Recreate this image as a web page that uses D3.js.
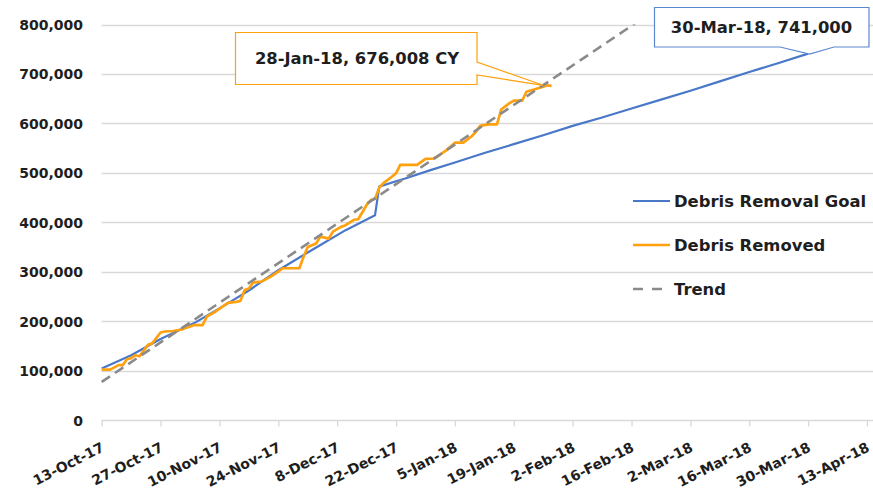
<!DOCTYPE html>
<html>
<head>
<meta charset="utf-8">
<script src="https://cdn.jsdelivr.net/npm/d3@7"></script>
<style>
  html, body { margin: 0; padding: 0; background: #fff; }
  svg { display: block; font-family: "DejaVu Sans", Verdana, sans-serif; font-weight: bold; }
</style>
</head>
<body>
<svg id="chart" width="873" height="492"></svg>
<script>
// ---------- DATA ----------
const removedDates = ["2017-10-13","2017-10-15","2017-10-17","2017-10-18","2017-10-19","2017-10-20","2017-10-21","2017-10-22",
  "2017-10-24","2017-10-25","2017-10-27","2017-10-28","2017-10-30","2017-11-01","2017-11-04","2017-11-06","2017-11-07",
  "2017-11-09","2017-11-11","2017-11-12","2017-11-14","2017-11-15","2017-11-16","2017-11-17","2017-11-18","2017-11-20",
  "2017-11-22","2017-11-24","2017-11-25","2017-11-29","2017-11-30","2017-12-01","2017-12-03","2017-12-04","2017-12-06",
  "2017-12-07","2017-12-09","2017-12-10","2017-12-12","2017-12-13","2017-12-15","2017-12-16","2017-12-17","2017-12-18",
  "2017-12-19","2017-12-21","2017-12-22","2017-12-23","2017-12-27","2017-12-29","2017-12-31","2018-01-01","2018-01-03",
  "2018-01-05","2018-01-07","2018-01-09","2018-01-10","2018-01-11","2018-01-13","2018-01-15","2018-01-16","2018-01-18",
  "2018-01-19","2018-01-21","2018-01-22","2018-01-24","2018-01-26","2018-01-27","2018-01-28"];
const removedValues = [102000,102000,111000,111000,123000,125000,131000,129000,
  152000,155000,177000,179000,180000,183000,192000,192000,209000,
  219000,231000,237000,239000,241000,263000,266000,278000,280000,
  289000,300000,307000,307000,330000,350000,357000,371000,367000,
  381000,391000,394000,405000,406000,435000,445000,447000,470000,
  479000,492000,499000,516000,516000,528000,529000,534000,546000,
  561000,561000,574000,583000,595000,598000,598000,628000,641000,
  646000,646000,664000,669000,674000,677000,676008];

const goalDates = ["2017-10-13","2017-10-20","2017-10-27","2017-11-04","2017-11-12","2017-11-17","2017-11-24","2017-12-02",
  "2017-12-10","2017-12-17","2017-12-18","2017-12-22","2017-12-24","2017-12-30","2018-01-05","2018-01-12","2018-01-19",
  "2018-01-26","2018-02-02","2018-02-09","2018-02-16","2018-02-23","2018-03-02","2018-03-09","2018-03-16","2018-03-23","2018-03-30"];
const goalValues = [104000,131000,164000,196000,236000,262000,303000,344000,
  384000,414000,472000,483000,488000,505000,521000,540000,558000,
  576000,595000,612000,630000,648000,666000,685000,704000,722000,741000];

const trendDates = ["2017-10-13","2018-02-17"];
const trendValues = [77000, 803000];

const xTickDates = ["2017-10-13","2017-10-27","2017-11-10","2017-11-24","2017-12-08","2017-12-22","2018-01-05",
  "2018-01-19","2018-02-02","2018-02-16","2018-03-02","2018-03-16","2018-03-30","2018-04-13"];
const yTicks = [0,100000,200000,300000,400000,500000,600000,700000,800000];

const seriesNames = ["Debris Removal Goal","Debris Removed","Trend"];
const calloutRemoved = { date: "2018-01-26", value: 677000, text: "28-Jan-18, 676,008 CY" };
const calloutGoal = { date: "2018-03-30", value: 741000, text: "30-Mar-18, 741,000" };

// ---------- SETUP ----------
const parse = d3.utcParse("%Y-%m-%d");
const fmtDate = d3.utcFormat("%-d-%b-%y");
const fmtNum = v => v === 0 ? "0" : d3.format(",")(v);

const svg = d3.select("#chart");
const colBlue = "#4a78c8", colOrange = "#ffa00f", colTrend = "#8a8a8a", colGrid = "#d9d9d9", colText = "#1e1e1e";

const x = d3.scaleUtc().domain([parse("2017-10-13"), parse("2018-04-13")]).range([101.7, 867]);
const y = d3.scaleLinear().domain([0, 800000]).range([420, 24.5]);

// gridlines
svg.append("g").selectAll("line").data(yTicks.filter(v => v > 0)).join("line")
  .attr("x1", 101.5).attr("x2", 873)
  .attr("y1", d => Math.round(y(d)) + 0.5).attr("y2", d => Math.round(y(d)) + 0.5)
  .attr("stroke", colGrid).attr("stroke-width", 1.3);

// y axis labels
const yAxis = d3.axisLeft(y).tickValues(yTicks).tickFormat(fmtNum).tickSize(0).tickPadding(0);
const gy = svg.append("g").attr("transform", "translate(83,0)").call(yAxis);
gy.select(".domain").remove();
gy.selectAll("text").attr("font-size", 14).attr("font-weight", "bold")
  .attr("font-family", "DejaVu Sans, Verdana, sans-serif").attr("fill", colText).attr("dy", "0.36em");

// x axis
const xAxis = d3.axisBottom(x).tickValues(xTickDates.map(parse)).tickFormat(fmtDate).tickSize(6).tickSizeOuter(0);
const gx = svg.append("g").attr("transform", "translate(0,420.5)").call(xAxis);
gx.select(".domain").attr("stroke", colGrid).attr("stroke-width", 1.3).attr("d", "M101.5,0H873");
gx.selectAll(".tick line").attr("stroke", colGrid).attr("stroke-width", 1.3);
gx.selectAll("text").attr("font-size", 14).attr("font-weight", "bold")
  .attr("font-family", "DejaVu Sans, Verdana, sans-serif").attr("fill", colText)
  .attr("text-anchor", "end").attr("y", 0).attr("dy", 0)
  .attr("transform", "translate(3,30) rotate(-27)");

// clip
svg.append("clipPath").attr("id", "plotclip").append("rect")
  .attr("x", 101).attr("y", y(800000)).attr("width", 772).attr("height", 420 - y(800000));

const line = d3.line().x(d => x(d[0])).y(d => y(d[1]));
const plot = svg.append("g").attr("clip-path", "url(#plotclip)");

const goal = goalDates.map((d, i) => [parse(d), goalValues[i]]);
const removed = removedDates.map((d, i) => [parse(d), removedValues[i]]);
const trend = trendDates.map((d, i) => [parse(d), trendValues[i]]);

plot.append("path").datum(goal).attr("d", line).attr("fill", "none")
  .attr("stroke", colBlue).attr("stroke-width", 2.2).attr("stroke-linejoin", "round");
plot.append("path").datum(removed).attr("d", line).attr("fill", "none")
  .attr("stroke", colOrange).attr("stroke-width", 2.7).attr("stroke-linejoin", "round");
plot.append("path").datum(trend).attr("d", line).attr("fill", "none")
  .attr("stroke", colTrend).attr("stroke-width", 2.6).attr("stroke-dasharray", "10,6");

// legend
const legend = svg.append("g");
const legY = [201, 245, 289];
const legStyles = [
  { c: colBlue, w: 2.2, dash: null },
  { c: colOrange, w: 2.6, dash: null },
  { c: colTrend, w: 2.6, dash: "10,9" }
];
seriesNames.forEach((n, i) => {
  legend.append("line").attr("x1", 633).attr("x2", 670).attr("y1", legY[i]).attr("y2", legY[i])
    .attr("stroke", legStyles[i].c).attr("stroke-width", legStyles[i].w)
    .attr("stroke-dasharray", legStyles[i].dash);
  legend.append("text").attr("x", 674).attr("y", legY[i]).attr("dy", "0.36em")
    .attr("font-size", 16.4).attr("fill", colText).text(n);
});

// callouts
function callout(tipX, tipY, pathFn, color, cx, cy, text) {
  svg.append("path").attr("d", pathFn(tipX, tipY)).attr("fill", "#fff")
    .attr("stroke", color).attr("stroke-width", 1.2);
  svg.append("text").attr("x", cx).attr("y", cy).attr("dy", "0.36em").attr("text-anchor", "middle")
    .attr("font-size", 16.4).attr("fill", colText).text(text);
}
callout(x(parse(calloutRemoved.date)), y(calloutRemoved.value),
  (tx, ty) => `M235.5,32.5H477V62L${tx},${ty}L477,75V84.5H235.5Z`,
  colOrange, 357, 58, calloutRemoved.text);
callout(x(parse(calloutGoal.date)) + 1.5, y(calloutGoal.value) + 0.5,
  (tx, ty) => `M654.5,7.5H869V47H834L${tx},${ty}L780,47H654.5Z`,
  "#5b87d0", 761.5, 27.5, calloutGoal.text);
</script>
</body>
</html>
